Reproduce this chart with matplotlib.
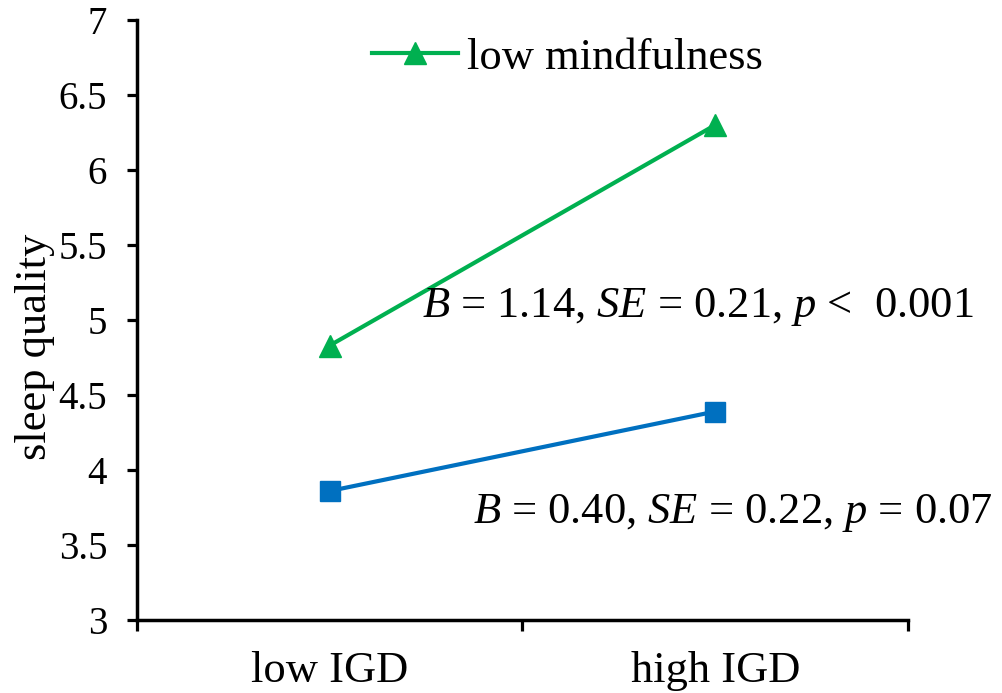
import matplotlib
matplotlib.use("Agg")
import matplotlib.pyplot as plt
from matplotlib.ticker import FixedLocator, NullFormatter

categories = ["low IGD", "high IGD"]
low_mind = [4.83, 6.30]
high_mind = [3.86, 4.39]
yticks = [3, 3.5, 4, 4.5, 5, 5.5, 6, 6.5, 7]
ytick_labels = ["3", "3.5", "4", "4.5", "5", "5.5", "6", "6.5", "7"]
ann_low = r"$B$ = 1.14, $SE$ = 0.21, $p$ <  0.001"
ann_high = r"$B$ = 0.40, $SE$ = 0.22, $p$ = 0.07"

plt.rcParams['font.family'] = ['Liberation Serif', 'DejaVu Serif']
plt.rcParams['mathtext.fontset'] = 'custom'
plt.rcParams['mathtext.rm'] = 'Liberation Serif'
plt.rcParams['mathtext.it'] = 'Liberation Serif:italic'

fig = plt.figure(figsize=(10.03, 6.93), dpi=100)
ax = fig.add_axes([137/1003, 1-620/693, 771/1003, 600/693])

x = list(range(len(categories)))
green = "#00B050"
blue = "#0070C0"
l1, = ax.plot(x, low_mind, color=green, lw=3, marker="^", markersize=16, label="low mindfulness", clip_on=False)
l2, = ax.plot(x, high_mind, color=blue, lw=3, marker="s", markersize=15, label="high mindfulness", clip_on=False)

ax.set_xlim(-0.5, len(categories) - 0.5)
ax.set_ylim(3, 7)
ax.set_yticks(yticks)
ax.set_yticklabels(ytick_labels, fontsize=28)
ax.xaxis.set_major_locator(FixedLocator([-0.5, 0.5, 1.5]))
ax.xaxis.set_major_formatter(NullFormatter())
ax.xaxis.set_minor_locator(FixedLocator(x))
ax.set_xticklabels(categories, minor=True, fontsize=32)
ax.tick_params(axis="x", which="minor", length=0, pad=22)
ax.tick_params(axis="x", which="major", length=8, width=2.3, direction="out")
ax.tick_params(axis="y", which="major", length=7.5, width=2.3, direction="out", pad=14)

for s in ["top", "right"]:
    ax.spines[s].set_visible(False)
for s in ["left", "bottom"]:
    ax.spines[s].set_linewidth(2.5)

ax.set_ylabel("sleep quality", fontsize=32)
ax.yaxis.set_label_coords((35-137)/771, (620-347)/600)
ax.yaxis.label.set_va("center")

ax.text(0.239, 5.087, ann_low, fontsize=32, va="center", ha="left")
ax.text(0.372, 3.713, ann_high, fontsize=32, va="center", ha="left")

leg = ax.legend(handles=[l1], loc="center left", bbox_to_anchor=(372/1003, 1-58/693),
                bbox_transform=fig.transFigure, frameon=False, fontsize=32,
                borderpad=0, borderaxespad=0, handlelength=1.94, handletextpad=0.2)

fig.savefig("out.png", dpi=100)
